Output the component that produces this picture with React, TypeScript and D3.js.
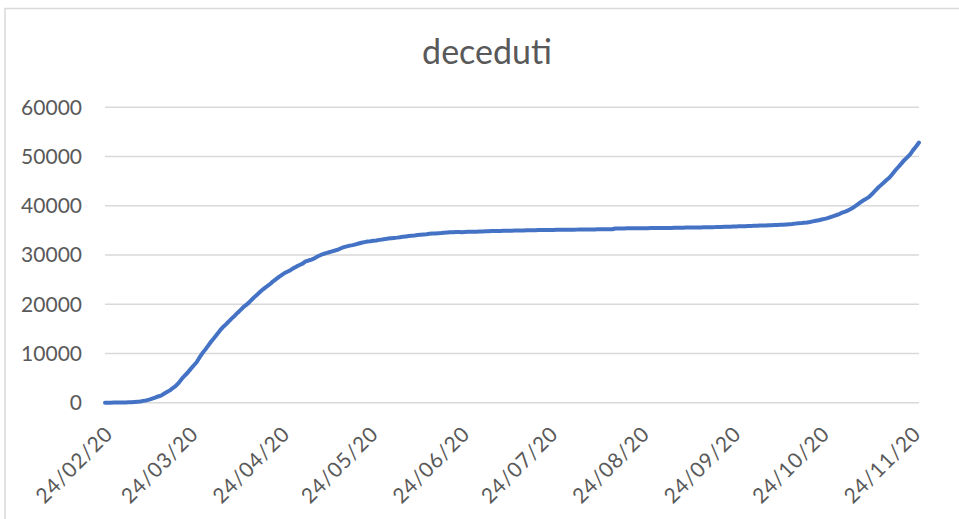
import React from "react";
import * as d3 from "d3";

// Cumulative deaths, daily, starting 24/02/2020
const startDate = new Date(2020, 1, 24);
const feb = [7, 10, 12, 17, 21, 29];
const mar = [34, 52, 79, 107, 148, 197, 233, 366, 463, 631, 827, 1016, 1266, 1441, 1809, 2158, 2503, 2978, 3405, 4032, 4825, 5476, 6077, 6820, 7503, 8165, 9134, 10023, 10779, 11591, 12428];
const apr = [13155, 13915, 14681, 15362, 15887, 16523, 17127, 17669, 18279, 18849, 19468, 19899, 20465, 21067, 21645, 22170, 22745, 23227, 23660, 24114, 24648, 25085, 25549, 25969, 26384, 26644, 26977, 27359, 27682, 27967];
const may = [28236, 28710, 28884, 29079, 29315, 29684, 29958, 30201, 30395, 30560, 30739, 30911, 31106, 31368, 31610, 31763, 31908, 32007, 32169, 32330, 32486, 32616, 32735, 32785, 32877, 32955, 33072, 33142, 33229, 33340, 33415];
const jun = [33475, 33530, 33601, 33689, 33774, 33846, 33899, 33964, 34043, 34114, 34167, 34223, 34301, 34345, 34371, 34405, 34448, 34514, 34561, 34610, 34634, 34657, 34675, 34644, 34678, 34708, 34716, 34738, 34744, 34767];
const jul = [34788, 34818, 34833, 34854, 34861, 34869, 34899, 34914, 34926, 34938, 34945, 34954, 34967, 34984, 34997, 35017, 35028, 35042, 35045, 35058, 35073, 35082, 35092, 35097, 35102, 35107, 35112, 35123, 35129, 35132, 35141];
const aug = [35146, 35154, 35166, 35171, 35181, 35187, 35190, 35203, 35205, 35209, 35215, 35225, 35231, 35234, 35392, 35396, 35400, 35405, 35412, 35418, 35427, 35430, 35437, 35441, 35445, 35458, 35463, 35472, 35473, 35477, 35483];
const sep = [35491, 35497, 35507, 35518, 35534, 35541, 35553, 35563, 35577, 35587, 35597, 35603, 35610, 35624, 35633, 35645, 35658, 35668, 35692, 35707, 35724, 35738, 35758, 35781, 35801, 35818, 35835, 35851, 35875, 35894];
const oct = [35918, 35941, 35968, 35986, 36002, 36030, 36061, 36083, 36111, 36140, 36166, 36205, 36246, 36289, 36372, 36427, 36474, 36543, 36616, 36705, 36832, 36968, 37059, 37210, 37338, 37479, 37700, 37905, 38122, 38321, 38618];
const nov = [38826, 39059, 39412, 39764, 40192, 40638, 41063, 41394, 41750, 42330, 42953, 43589, 44139, 44683, 45229, 45733, 46464, 47217, 47870, 48569, 49261, 49823, 50453, 51306, 52028, 52850];

const yTicks = [0, 10000, 20000, 30000, 40000, 50000, 60000];
const xTickDates = [
  new Date(2020, 1, 24), new Date(2020, 2, 24), new Date(2020, 3, 24), new Date(2020, 4, 24),
  new Date(2020, 5, 24), new Date(2020, 6, 24), new Date(2020, 7, 24), new Date(2020, 8, 24),
  new Date(2020, 9, 24), new Date(2020, 10, 24),
];
const title = "deceduti";

const values = [...feb, ...mar, ...apr, ...may, ...jun, ...jul, ...aug, ...sep, ...oct, ...nov];
const data = values.map((v, i) => ({ date: d3.timeDay.offset(startDate, i), value: v }));

const W = 959, H = 519;
const left = 105, right = 919, top = 107.3, bottom = 402.7;
const FONT = "Lato, 'Open Sans', sans-serif";
const TXT = "#595959";
const GRID = "#D9D9D9";

export default function App() {
  const x = d3.scaleTime().domain([startDate, data[data.length - 1].date]).range([left, right]);
  const y = d3.scaleLinear().domain([0, 60000]).range([bottom, top]);
  const line = d3.line<{ date: Date; value: number }>().x((d) => x(d.date)).y((d) => y(d.value));
  const fmt = d3.timeFormat("%d/%m/%y");

  return (
    <svg width={W} height={H} style={{ position: "absolute", left: 0, top: 0, background: "#fff" }}>
      <rect x={0} y={0} width={W} height={H} fill="#fff" />
      <rect x={5} y={8.5} width={W + 20} height={H + 20} fill="none" stroke={GRID} strokeWidth={1.5} />
      <text x={487} y={64} textAnchor="middle" fontFamily={FONT} fontSize={34} fill={TXT}>
        {title}
      </text>
      {yTicks.map((t) => (
        <g key={t}>
          <line x1={left} x2={right} y1={y(t)} y2={y(t)} stroke={GRID} strokeWidth={1.5} />
          <text x={82} y={y(t)} dy="0.35em" textAnchor="end" fontFamily={FONT} fontSize={21} fill={TXT}>
            {t}
          </text>
        </g>
      ))}
      {xTickDates.map((d) => (
        <text
          key={d.getTime()}
          transform={`translate(${x(d) + 4},430) rotate(-45)`}
          dy="0.35em"
          textAnchor="end"
          fontFamily={FONT}
          fontSize={21}
          letterSpacing={0.8}
          fill={TXT}
        >
          {fmt(d)}
        </text>
      ))}
      <path d={line(data) || ""} fill="none" stroke="#4472C4" strokeWidth={4} strokeLinejoin="round" strokeLinecap="round" />
    </svg>
  );
}
